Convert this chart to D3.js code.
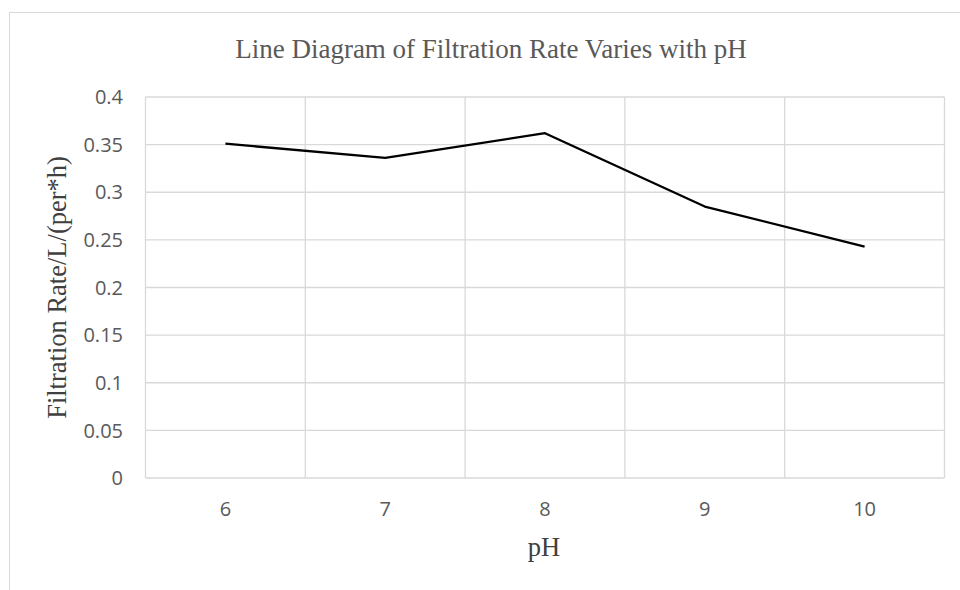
<!DOCTYPE html>
<html><head><meta charset="utf-8">
<script src="https://cdn.jsdelivr.net/npm/d3@7"></script>
<style>body{margin:0;background:#fff}svg{display:block}</style>
</head><body>
<svg id="c" width="960" height="590"></svg>
<script>
const categories = ["6", "7", "8", "9", "10"];
const values = [0.351, 0.336, 0.362, 0.285, 0.243];
const yTicks = [0, 0.05, 0.1, 0.15, 0.2, 0.25, 0.3, 0.35, 0.4];
const title = "Line Diagram of Filtration Rate Varies with pH";
const xTitle = "pH";
const yTitle = "Filtration Rate/L/(per*h)";

const svg = d3.select("#c");
const m = {l: 145.5, r: 944.5, t: 97, b: 478};
const grid = "#d9d9d9", txt = "#595959";
const sans = "'Open Sans', 'Noto Sans', sans-serif";
const serif = "'Liberation Serif', 'Times New Roman', serif";

svg.append("rect").attr("x", 9.5).attr("y", 12.5).attr("width", 1000).attr("height", 700)
  .attr("fill", "#fff").attr("stroke", grid).attr("stroke-width", 1);

const x = d3.scaleBand().domain(categories).range([m.l, m.r]);
const y = d3.scaleLinear().domain([0, 0.4]).range([m.b, m.t]);

// horizontal gridlines
svg.append("g").selectAll("line").data(yTicks).join("line")
  .attr("x1", m.l).attr("x2", m.r)
  .attr("y1", d => y(d)).attr("y2", d => y(d))
  .attr("stroke", grid).attr("stroke-width", 1.3);
// vertical gridlines at category boundaries
const bounds = categories.map(c => x(c)).concat([x(categories[categories.length-1]) + x.bandwidth()]);
svg.append("g").selectAll("line").data(bounds).join("line")
  .attr("x1", d => d).attr("x2", d => d)
  .attr("y1", m.t).attr("y2", m.b)
  .attr("stroke", grid).attr("stroke-width", 1.3);

// y tick labels
svg.append("g").selectAll("text").data(yTicks).join("text")
  .attr("x", 123).attr("y", d => y(d)).attr("dy", "0.36em")
  .attr("text-anchor", "end").attr("fill", txt)
  .style("font-family", sans).style("font-size", "20px")
  .text(d => d3.format("")(d));
// x tick labels
svg.append("g").selectAll("text").data(categories).join("text")
  .attr("x", d => x(d) + x.bandwidth()/2).attr("y", 516)
  .attr("text-anchor", "middle").attr("fill", txt)
  .style("font-family", sans).style("font-size", "20px")
  .text(d => d);

// line
const line = d3.line().x((d, i) => x(categories[i]) + x.bandwidth()/2).y(d => y(d));
svg.append("path").datum(values).attr("d", line)
  .attr("fill", "none").attr("stroke", "#000").attr("stroke-width", 2.3)
  .attr("stroke-linejoin", "round");

// titles
svg.append("text").attr("x", 491).attr("y", 58).attr("text-anchor", "middle")
  .attr("fill", txt).style("font-family", serif)
  .style("font-size", "27px").text(title);
svg.append("text").attr("x", 544).attr("y", 556).attr("text-anchor", "middle")
  .attr("fill", "#404040").style("font-family", serif)
  .style("font-size", "26.5px").text(xTitle);
svg.append("text").attr("transform", "translate(66," + ((m.t + m.b)/2) + ") rotate(-90)")
  .attr("text-anchor", "middle")
  .attr("fill", "#404040").style("font-family", serif)
  .style("font-size", "26.5px").text(yTitle);
</script>
</body></html>
